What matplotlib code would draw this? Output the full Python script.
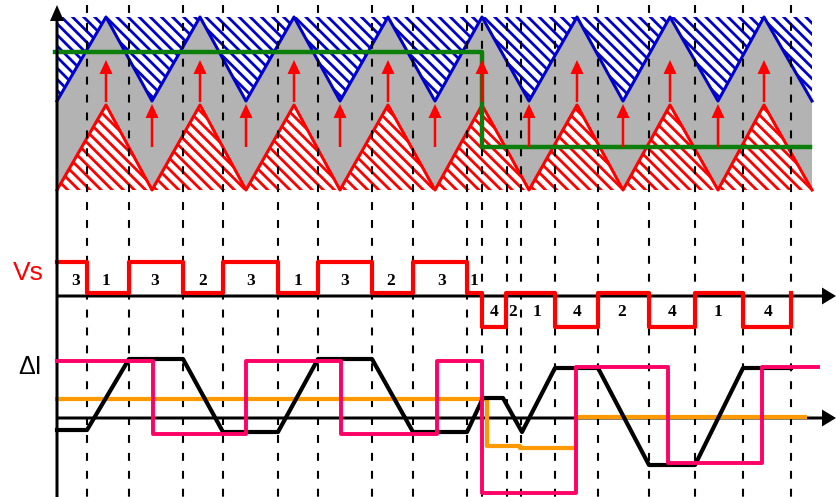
import matplotlib.pyplot as plt

# top panel: carrier corners (pixel-like units, y grows downward)
carrier_x = [57, 106, 152, 200, 246, 294, 340, 388, 435, 482, 529, 577, 623, 670, 718, 764, 812]
upper_y = [101, 17, 101, 17, 101, 17, 101, 17, 101, 17, 101, 17, 101, 17, 101, 17, 101]
lower_y = [190, 105, 190, 105, 190, 105, 190, 105, 190, 105, 190, 105, 190, 105, 190, 105, 190]

# green reference step
ref_x = [55, 482, 482, 810]
ref_y = [52, 52, 147, 147]

# red arrows at carrier peaks / troughs
peak_arrow_x = [106, 200, 294, 388, 482, 577, 670, 764]
trough_arrow_x = [152, 246, 340, 435, 529, 623, 718]

# switching instants (dashed lines)
switch_x = [87, 129, 183, 223, 278, 318, 372, 413, 467, 482, 507, 521, 555, 598, 649, 695, 743, 791]

# Vs waveform
vs_edges = [57, 87, 129, 183, 223, 278, 318, 372, 413, 467, 482, 506, 555, 598, 649, 695, 743, 791]
vs_levels = [262, 293, 262, 293, 262, 293, 262, 293, 262, 293, 327, 293, 327, 293, 327, 293, 327, 293]
vs_labels = ['3', '1', '3', '2', '3', '1', '3', '2', '3', '1', '4', '2', '1', '4', '2', '4', '1', '4']
vs_label_x = [76, 106, 155, 203, 251, 298, 345, 391, 442, 474, 494, 513, 537, 577, 622, 672, 718, 768]
vs_label_y = [281, 281, 281, 281, 281, 281, 281, 281, 281, 281, 312, 312, 312, 312, 312, 312, 312, 312]

# delta I waveforms
di_x = [57, 87, 129, 183, 223, 278, 318, 372, 413, 467, 483, 503, 522, 555, 598, 649, 695, 743, 791]
di_y = [430, 430, 359, 359, 432, 432, 359, 359, 432, 432, 398, 398, 432, 368, 368, 465, 465, 368, 368]
pink_edges = [57, 153, 246, 341, 437, 482, 576, 668, 762, 818]
pink_levels = [361, 434, 361, 434, 361, 493, 367, 463, 367, 367]
orange_edges = [57, 487, 520, 576, 805]
orange_levels = [399, 446, 448, 417, 417]

plt.rcParams['hatch.linewidth'] = 2.0

fig = plt.figure(figsize=(8.36, 4.97), dpi=100)
ax = fig.add_axes([0, 0, 1, 1])
ax.set_xlim(0, 836)
ax.set_ylim(497, 0)
ax.axis('off')

# carriers with hatched / gray regions
ax.fill_between(carrier_x, 17, upper_y, facecolor='white', edgecolor='#0000CC',
                hatch='\\\\\\', linewidth=0, zorder=1)
ax.fill_between(carrier_x, upper_y, lower_y, facecolor='#B3B3B3', linewidth=0, zorder=1)
ax.fill_between(carrier_x, lower_y, 190, facecolor='white', edgecolor='#FF0000',
                hatch='\\\\\\', linewidth=0, zorder=1)
ax.plot(carrier_x, upper_y, color='#0000CC', lw=2.2, zorder=2)
ax.plot(carrier_x, lower_y, color='#FF0000', lw=2.2, zorder=2)

# dashed switching lines
for x in switch_x:
    ax.plot([x, x], [5, 497], color='black', lw=1.5, dashes=(3.8, 4.8), zorder=3)

ax.plot(ref_x, ref_y, color='#0B7E0B', lw=3.2, zorder=4)

for x in peak_arrow_x:
    ax.arrow(x, 102, 0, -42, width=2.5, head_width=13, head_length=14,
             length_includes_head=True, color='#FF0000', lw=0, zorder=5)
for x in trough_arrow_x:
    ax.arrow(x, 147, 0, -43, width=2.5, head_width=13, head_length=14,
             length_includes_head=True, color='#FF0000', lw=0, zorder=5)

# axes with arrows
ax.arrow(57, 497, 0, -492, width=3, head_width=14, head_length=16,
         length_includes_head=True, color='black', lw=0, zorder=6)
ax.arrow(57, 296, 779, 0, width=3, head_width=17, head_length=14,
         length_includes_head=True, color='black', lw=0, zorder=4)
ax.arrow(57, 418, 779, 0, width=3, head_width=17, head_length=14,
         length_includes_head=True, color='black', lw=0, zorder=4)

# Vs
ax.step(vs_edges, vs_levels, where='post', color='#FF0000', lw=3, zorder=5)
for lab, x, y in zip(vs_labels, vs_label_x, vs_label_y):
    ax.text(x, y, lab, ha='center', va='center', fontsize=12.5, fontweight='bold',
            family='Liberation Serif', zorder=7)
ax.text(28, 273, 'Vs', color='#FF0000', ha='center', va='center', fontsize=19,
        family='Liberation Sans')

# delta I
ax.text(30, 367, 'ΔI', color='black', ha='center', va='center', fontsize=18,
        family='Liberation Sans')
ax.step(orange_edges, orange_levels, where='post', color='#FF9900', lw=3, zorder=5)
ax.plot(di_x, di_y, color='black', lw=3, zorder=5)
ax.step(pink_edges, pink_levels, where='post', color='#FF0066', lw=2.8, zorder=6)

fig.savefig('out.png', dpi=100)
